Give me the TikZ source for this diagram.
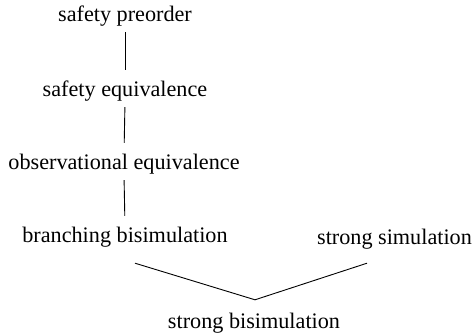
\documentclass[tikz,border=0pt]{standalone}
\usepackage{fontspec}
\setmainfont{Liberation Serif}
\usetikzlibrary{calc}
\begin{document}
\begin{tikzpicture}[x=1pt,y=-1pt,
  lbl/.style={anchor=base, inner sep=0pt, text height=16pt, text depth=5pt,
              font=\fontsize{22.2}{26}\selectfont},
  link/.style={draw=black, line width=0.9pt, shorten <=5pt, shorten >=11pt},
  vline/.style={draw=black, line width=0.9pt}]
  \useasboundingbox (0,0) rectangle (473,336);

  \node[lbl] (sp) at (125,22)  {safety preorder};
  \node[lbl] (se) at (125,97)  {safety equivalence};
  \node[lbl] (oe) at (124,170) {observational equivalence};
  \node[lbl] (bb) at (125,243) {branching bisimulation};
  \node[lbl] (ss) at (394.5,244) {strong simulation};
  \node[lbl] (sb) at (254,328) {strong bisimulation};

  \draw[link] (sp.south) -- (se.north);
  \draw[link] (se.south) -- (oe.north);
  \draw[link] (oe.south) -- (bb.north);

  \coordinate (bl) at ($(bb.south)+(10,15)$);
  \coordinate (br) at ($(ss.south)+(-27.5,14)$);
  \coordinate (bv) at ($(sb.north)+(1,-12)$);
  \draw[vline] (bl) -- (bv) -- (br);
\end{tikzpicture}
\end{document}
